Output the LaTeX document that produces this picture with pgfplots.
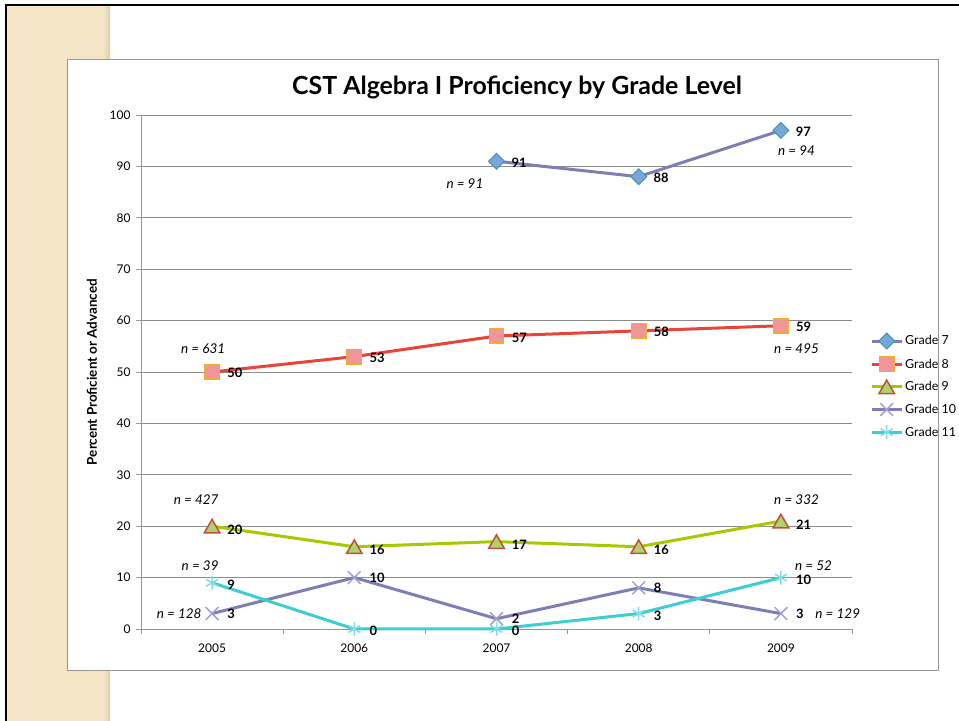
\documentclass[border=0pt]{standalone}
\usepackage{fontspec}
\setmainfont{Lato}
\usepackage{pgfplots}
\pgfplotsset{compat=1.18}
\definecolor{beige}{RGB}{243,229,198}
\definecolor{beigedark}{RGB}{222,205,170}
\definecolor{framegray}{RGB}{150,150,150}
\definecolor{gridgray}{RGB}{140,140,140}
\definecolor{purpline}{RGB}{126,126,180}
\definecolor{g7fill}{RGB}{120,165,218}
\definecolor{g7edge}{RGB}{70,150,170}
\definecolor{g8line}{RGB}{232,68,58}
\definecolor{g8fill}{RGB}{240,150,150}
\definecolor{g8edge}{RGB}{247,170,50}
\definecolor{g9line}{RGB}{163,203,0}
\definecolor{g9fill}{RGB}{175,210,110}
\definecolor{g9edge}{RGB}{192,80,60}
\definecolor{g10mark}{RGB}{160,160,210}
\definecolor{g11line}{RGB}{60,206,208}
\definecolor{g11mark}{RGB}{130,222,226}
\begin{document}
\begin{tikzpicture}
\useasboundingbox (0,0) rectangle (959bp,721bp);
\fill[white] (0,0) rectangle (959bp,721bp);
\fill[beige] (7bp,0) rectangle (110bp,715bp);
\shade[left color=beige, right color=beigedark] (103bp,0) rectangle (110bp,715bp);
\draw[black, line width=2.5bp] (6bp,0) -- (6bp,716bp) -- (959bp,716bp);
\draw[framegray, fill=white, line width=0.8bp] (67.5bp,50.5bp) rectangle (938bp,661.5bp);
\node[font=\bfseries\fontsize{25}{30}\selectfont] at (517bp,634bp) {CST Algebra I Proficiency by Grade Level};
\begin{axis}[
  at={(141bp,92bp)}, anchor=south west,
  scale only axis, width=711bp, height=514bp,
  xmin=-0.5, xmax=4.5, ymin=0, ymax=100,
  xtick={0,1,2,3,4},
  xticklabels={\mbox{2005},\mbox{2006},\mbox{2007},\mbox{2008},\mbox{2009}},
  minor xtick={-0.5,0.5,1.5,2.5,3.5,4.5},
  ytick={0,10,...,100},
  axis x line*=bottom, axis y line*=left,
  axis line style={-, draw=framegray, line width=0.8bp},
  ymajorgrids, grid style={gridgray, line width=0.8bp},
  major x tick style={draw=none},
  minor x tick style={draw=framegray, line width=0.8bp},
  y tick style={draw=framegray, line width=0.8bp},
  tick align=outside, major tick length=5bp, minor tick length=5bp,
  tick label style={font=\fontsize{12}{14}\selectfont},
  /pgf/number format/assume math mode=true,
  xticklabel style={yshift=-6bp},
  yticklabel style={xshift=-2bp},
  ylabel={Percent Proficient or Advanced},
  every axis y label/.style={at={(axis description cs:-0.069,0.5)}, rotate=90, anchor=center, font=\bfseries\fontsize{13.5}{16}\selectfont},
  clip=false,
  legend style={at={(axis description cs:1.0253,0.576)}, anchor=north west, draw=none, fill=none, font=\fontsize{12.5}{15}\selectfont, row sep=8bp, inner sep=0pt},
  legend cell align=left,
  legend image code/.code={\draw[mark repeat=2,mark phase=2,#1] plot coordinates {(0bp,0bp) (15bp,0bp) (30bp,0bp)};},
  nodes near coords,
  every node near coord/.append style={anchor=west, xshift=14bp, yshift=-1.5bp, inner sep=0.5bp, text height=9bp, text depth=0pt, text=black, font=\bfseries\fontsize{13}{15}\selectfont},
]
\addplot[purpline, line width=3bp, mark=square*, mark size=5.6bp, mark options={rotate=45, fill=g7fill, draw=g7edge, line width=1bp}]
  coordinates {(2,91) (3,88) (4,97)};
\addlegendentry{Grade 7}
\addplot[g8line, line width=3bp, mark=square*, mark size=7.2bp, mark options={fill=g8fill, draw=g8edge, line width=1.5bp}]
  coordinates {(0,50) (1,53) (2,57) (3,58) (4,59)};
\addlegendentry{Grade 8}
\addplot[g9line, line width=3bp, mark=triangle*, mark size=9bp, mark options={fill=g9fill, draw=g9edge, line width=1.5bp, yshift=-2.2bp}]
  coordinates {(0,20) (1,16) (2,17) (3,16) (4,21)};
\addlegendentry{Grade 9}
\addplot[purpline, line width=3bp, mark=x, mark size=9bp, mark options={draw=g10mark, line width=1.5bp},
  every node near coord/.append style={yshift=1bp}]
  coordinates {(0,3) (1,10) (2,2) (3,8) (4,3)};
\addlegendentry{Grade 10}
\addplot[g11line, line width=3bp, mark=asterisk, mark size=7bp, mark options={draw=g11mark, line width=1.5bp},
  every node near coord/.append style={yshift=-0.8bp}]
  coordinates {(0,9) (1,0) (2,0) (3,3) (4,10)};
\addlegendentry{Grade 11}
\begin{scope}[every node/.style={font=\itshape\fontsize{13.5}{16}\selectfont}]
\node at (axis cs:1.778,86.7) {n = 91};
\node at (axis cs:4.11,93.0) {n = 94};
\node at (axis cs:-0.063,54.5) {n = 631};
\node at (axis cs:4.11,54.5) {n = 495};
\node at (axis cs:-0.112,25.2) {n = 427};
\node at (axis cs:4.11,25.2) {n = 332};
\node at (axis cs:-0.084,12.3) {n = 39};
\node at (axis cs:4.23,12.3) {n = 52};
\node at (axis cs:-0.232,2.9) {n = 128};
\node at (axis cs:4.40,2.9) {n = 129};
\end{scope}
\end{axis}
\end{tikzpicture}
\end{document}
